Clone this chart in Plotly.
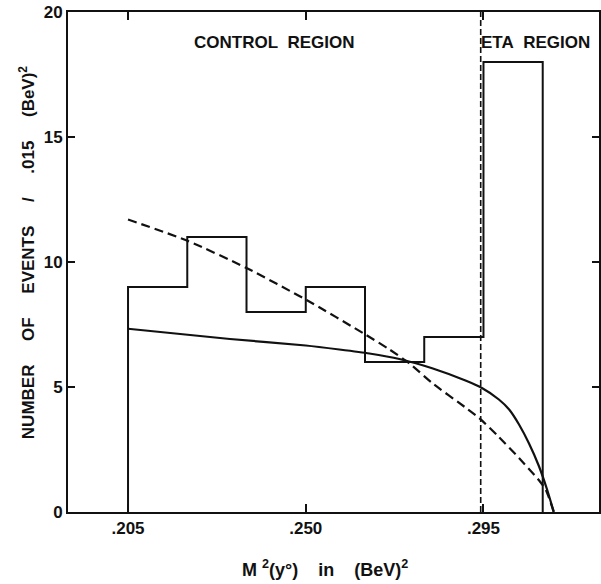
import plotly.graph_objects as go

# Histogram (bins of .015 (BeV)^2)
bin_edges = [0.205, 0.220, 0.235, 0.250, 0.265, 0.280, 0.295, 0.310]
counts = [9, 11, 8, 9, 6, 7, 18]

# Solid curve
solid_x = [0.2050, 0.2308, 0.2500, 0.2585, 0.2661, 0.2737, 0.2820, 0.2906, 0.2944,
           0.2989, 0.3015, 0.3040, 0.3065, 0.3090, 0.3111, 0.3128]
solid_y = [7.33, 6.92, 6.66, 6.50, 6.34, 6.12, 5.75, 5.25, 4.98,
           4.50, 4.10, 3.50, 2.75, 1.85, 0.90, 0.0]

# Dashed curve
dash_x = [0.2050, 0.2202, 0.2350, 0.2502, 0.2653, 0.2712, 0.2762, 0.2820,
          0.2906, 0.2939, 0.2989, 0.3040, 0.3090, 0.3108, 0.3128]
dash_y = [11.7, 10.84, 9.76, 8.48, 7.08, 6.50, 5.95, 5.16,
          4.16, 3.76, 3.0, 2.16, 1.28, 0.88, 0.0]

region_boundary = 0.2943
x_ticks = [0.205, 0.250, 0.295]
x_ticktext = [".205", ".250", ".295"]
y_ticks = [0, 5, 10, 15, 20]

FONT = "Liberation Sans"
BLACK = "#111111"

hist_x = [bin_edges[0]] + bin_edges
hist_y = [0] + counts + [0]

fig = go.Figure()
fig.add_trace(go.Scatter(x=hist_x, y=hist_y, mode="lines", line_shape="hv",
                         line=dict(color=BLACK, width=2), hoverinfo="skip"))
fig.add_trace(go.Scatter(x=solid_x, y=solid_y, mode="lines", line_shape="spline",
                         line=dict(color=BLACK, width=2.2, smoothing=0.6), hoverinfo="skip"))
fig.add_trace(go.Scatter(x=dash_x, y=dash_y, mode="lines", line_shape="spline",
                         line=dict(color=BLACK, width=2.2, dash="9px,5px", smoothing=0.6),
                         hoverinfo="skip"))
fig.add_trace(go.Scatter(x=[region_boundary, region_boundary], y=[0, 20], mode="lines",
                         line=dict(color=BLACK, width=1.6, dash="6px,3px"), hoverinfo="skip"))

fig.update_layout(
    width=601, height=584,
    margin=dict(l=68, r=0, t=12, b=72),
    paper_bgcolor="white", plot_bgcolor="white",
    showlegend=False,
    font=dict(family=FONT, color=BLACK),
    xaxis=dict(range=[0.1898, 0.32425], tickvals=x_ticks, ticktext=x_ticktext,
               ticks="inside", ticklen=8, tickwidth=2, tickcolor=BLACK,
               showline=True, linewidth=2, linecolor=BLACK, mirror="ticks",
               showgrid=False, zeroline=False,
               tickfont=dict(family=FONT, size=17, color=BLACK, weight="bold")),
    yaxis=dict(range=[0, 20], tickvals=y_ticks,
               ticks="inside", ticklen=7, tickwidth=2, tickcolor=BLACK,
               showline=True, linewidth=2, linecolor=BLACK, mirror="ticks",
               showgrid=False, zeroline=False,
               tickfont=dict(family=FONT, size=17, color=BLACK, weight="bold")),
)

nb = "\u00a0"
W = 533
fig.add_annotation(text="CONTROL" + nb * 2 + "REGION", xref="paper", yref="paper",
                   x=(275 - 68) / W, y=(512 - 42) / 500, showarrow=False,
                   xanchor="center", yanchor="middle",
                   font=dict(family=FONT, size=17, color=BLACK, weight="bold"))
fig.add_annotation(text="ETA" + nb * 2 + "REGION", xref="paper", yref="paper",
                   x=(537 - 68) / W, y=(512 - 42) / 500, showarrow=False,
                   xanchor="center", yanchor="middle",
                   font=dict(family=FONT, size=17, color=BLACK, weight="bold"))
ytitle = (nb * 5).join(["NUMBER", "OF", "EVENTS", "/", ".015", "(BeV)<sup>2</sup>"])
fig.add_annotation(text=ytitle, xref="paper", yref="paper",
                   x=(27 - 68) / W, y=(512 - 252) / 500, textangle=-90, showarrow=False,
                   xanchor="center", yanchor="middle",
                   font=dict(family=FONT, size=17, color=BLACK, weight="bold"))
xtitle = "M" + nb + "<sup>2</sup>(y°)" + nb * 4 + "in" + nb * 4 + "(BeV)<sup>2</sup>"
fig.add_annotation(text=xtitle, xref="paper", yref="paper",
                   x=(326 - 68) / W, y=-(568 - 512) / 500, showarrow=False,
                   xanchor="center", yanchor="middle",
                   font=dict(family=FONT, size=18, color=BLACK, weight="bold"))

fig.write_html("out.html")
